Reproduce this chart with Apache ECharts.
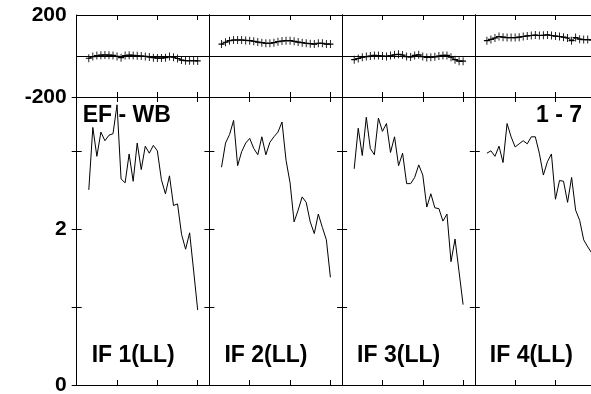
<!DOCTYPE html>
<html><head><meta charset="utf-8">
<script src="https://cdn.jsdelivr.net/npm/echarts@6/dist/echarts.min.js"></script>
<style>html,body{margin:0;padding:0;background:#fff}#c{width:591px;height:394px}</style>
</head><body><div id="c"></div>
<script>
// ---- data ----
const xValues = [0.3,0.4,0.5,0.6,0.7,0.8,0.9,1.0,1.1,1.2,1.3,1.4,1.5,1.6,1.7,1.8,1.9,2.0,2.1,2.2,2.3,2.4,2.5,2.6,2.7,2.8,2.9,3.0];
const panelLabels = ['IF 1(LL)','IF 2(LL)','IF 3(LL)','IF 4(LL)'];
const titleLeft = 'EF - WB';
const titleRight = '1 - 7';

const amp1 = [2.50,3.30,2.93,3.24,3.13,3.20,3.22,3.59,2.64,2.59,2.96,2.61,3.10,2.76,3.06,2.97,3.07,3.00,2.63,2.45,2.68,2.30,2.32,1.93,1.74,1.95,1.46,0.96];
const amp2 = [2.79,3.10,3.21,3.39,2.81,2.99,3.10,3.16,3.03,2.95,3.18,2.95,3.11,3.18,3.24,3.37,2.88,2.59,2.09,2.24,2.41,2.34,2.09,1.94,2.19,2.02,1.86,1.38];
const amp3 = [2.77,3.29,2.94,3.43,3.03,2.95,3.42,3.25,3.35,2.98,3.18,2.81,2.97,2.58,2.58,2.66,2.82,2.69,2.28,2.45,2.27,2.26,2.10,2.19,1.58,1.87,1.45,1.03];
const amp4 = [2.97,3.00,2.93,3.06,2.85,3.35,3.18,3.05,3.09,3.13,3.09,3.18,3.18,2.97,2.69,2.86,2.96,2.38,2.62,2.61,2.34,2.66,2.24,2.11,1.86,1.77,1.69,1.55];

const res1 = [-11,-3,2,4,5,4,3,-2,-8,2,4,3,1,0,-2,-5,-8,-10,-10,-8,-3,-6,-12,-20,-23,-23,-23,-24];
const res2 = [58,67,75,78,78,78,76,75,72,68,65,62,62,65,70,73,75,75,72,68,65,62,60,58,62,62,58,58];
const res3 = [-18,-12,-6,-3,0,3,2,0,-2,2,6,8,5,-3,-5,3,6,-3,-7,-6,-4,0,3,3,-6,-18,-25,-25];
const res4 = [75,81,88,95,92,90,90,90,92,95,98,100,102,100,101,103,100,97,95,92,88,75,90,82,80,80,78,78];

const resTicks = [-200, 200];   // labelled residual ticks
const ampTicks = [0, 2];        // labelled amplitude ticks

const amps = [amp1, amp2, amp3, amp4];
const ress = [res1, res2, res3, res4];

// ---- layout ----
const L0 = 76.7, W = 132.7;
const FONT = '"Liberation Sans", Arial, sans-serif';
const grids = [], xAxes = [], yAxes = [], series = [], graphics = [];
const black = {color: '#000', width: 1};

function xAx(g, pos) {
  return {type: 'value', gridIndex: g, position: pos, min: 0, max: 3.29, interval: 1,
    axisLine: {show: true, onZero: false, lineStyle: black},
    axisTick: {show: true, inside: true, length: 5, lineStyle: black},
    axisLabel: {show: false}, splitLine: {show: false}};
}
function yAx(g, pos, min, max, interval, labels, showLabels, split, inside) {
  return {type: 'value', gridIndex: g, position: pos, min, max, interval,
    axisLine: {show: true, onZero: false, lineStyle: black},
    axisTick: {show: true, inside: inside, length: 5, lineStyle: black},
    axisLabel: {show: showLabels, margin: 10, color: '#000', fontFamily: FONT, fontWeight: 'bold', fontSize: 21,
      formatter: v => labels.indexOf(v) >= 0 ? String(v) : ''},
    splitLine: {show: split, lineStyle: black}};
}

for (let p = 0; p < 4; p++) {
  const left = L0 + p * W;
  const gTop = grids.length;
  grids.push({left: left, width: W, top: 15, height: 82, outerBoundsMode: 'none', containLabel: false});
  const gBot = grids.length;
  grids.push({left: left, width: W, top: 97, height: 288, outerBoundsMode: 'none', containLabel: false});

  // top residual panel
  const xt = xAxes.length;
  xAxes.push(xAx(gTop, 'bottom')); xAxes.push(xAx(gTop, 'top'));
  const yt = yAxes.length;
  yAxes.push(yAx(gTop, 'left', -200, 200, 200, resTicks, p === 0, true, true));
  yAxes.push(yAx(gTop, 'right', -200, 200, 200, resTicks, false, false, true));

  // bottom amplitude panel
  const xb = xAxes.length;
  xAxes.push(xAx(gBot, 'bottom')); xAxes.push(xAx(gBot, 'top'));
  const yb = yAxes.length;
  yAxes.push(yAx(gBot, 'left', 0, 3.69, 1, ampTicks, p === 0, false, true));
  yAxes.push(yAx(gBot, 'right', 0, 3.69, 1, ampTicks, false, false, true));
  if (p === 0) {
    yAxes.push(yAx(gBot, 'left', 0, 3.69, 1, ampTicks, false, false, false));
  }

  series.push({type: 'line', xAxisIndex: xt, yAxisIndex: yt,
    data: xValues.map((x, i) => [x, ress[p][i]]),
    symbol: 'path://M5,0L5,10M0,5L10,5', symbolSize: [6, 8], showSymbol: true,
    itemStyle: {color: 'none', borderColor: '#000', borderWidth: 1},
    lineStyle: {color: '#000', width: 1}, silent: true, animation: false});
  series.push({type: 'line', xAxisIndex: xb, yAxisIndex: yb,
    data: xValues.map((x, i) => [x, amps[p][i]]),
    symbol: 'none', lineStyle: {color: '#000', width: 1}, silent: true, animation: false});

  graphics.push({type: 'text', x: left + 15, y: 356,
    style: {text: panelLabels[p], font: 'bold 23px ' + FONT, fill: '#000', align: 'left', verticalAlign: 'middle'}});
}
graphics.push({type: 'text', x: 82.7, y: 116,
  style: {text: titleLeft, font: 'bold 23px ' + FONT, fill: '#000', align: 'left', verticalAlign: 'middle'}});
graphics.push({type: 'text', x: 582, y: 116,
  style: {text: titleRight, font: 'bold 23px ' + FONT, fill: '#000', align: 'right', verticalAlign: 'middle'}});

const chart = echarts.init(document.getElementById('c'), null, {renderer: 'canvas'});
chart.setOption({
  backgroundColor: '#fff',
  animation: false,
  grid: grids, xAxis: xAxes, yAxis: yAxes, series: series, graphic: graphics
});
</script></body></html>
